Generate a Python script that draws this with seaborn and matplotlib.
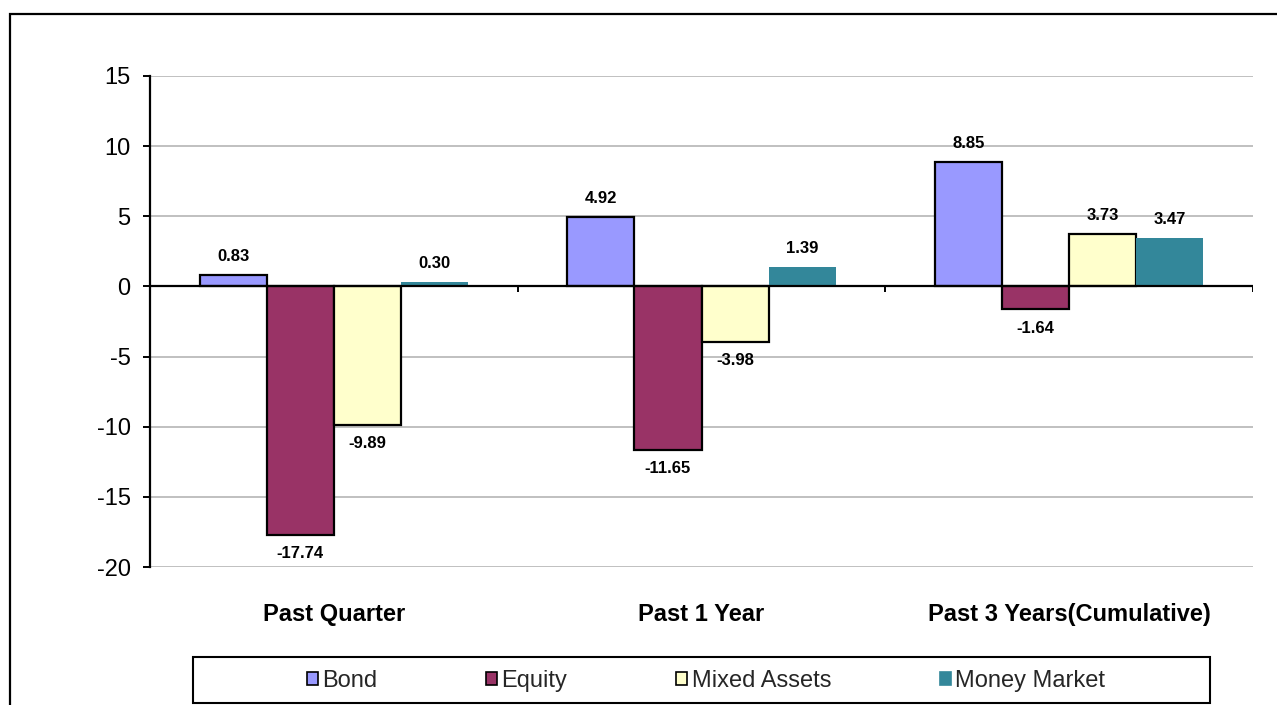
import matplotlib
matplotlib.use("Agg")
import matplotlib.pyplot as plt
from matplotlib import font_manager
from matplotlib.patches import Rectangle, Patch
import seaborn as sns
import pandas as pd

categories = ["Past Quarter", "Past 1 Year", "Past 3 Years(Cumulative)"]
series_names = ["Bond", "Equity", "Mixed Assets", "Money Market"]
bond = [0.83, 4.92, 8.85]
equity = [-17.74, -11.65, -1.64]
mixed = [-9.89, -3.98, 3.73]
money = [0.30, 1.39, 3.47]
yticks = [-20, -15, -10, -5, 0, 5, 10, 15]

colors = ["#9999FF", "#993366", "#FFFFCC", "#33879A"]
edges = ["black", "black", "black", "none"]

rows = []
for name, vals in zip(series_names, [bond, equity, mixed, money]):
    for c, v in zip(categories, vals):
        rows.append({"Category": c, "Series": name, "Value": v})
df = pd.DataFrame(rows)

sns.set_theme(style="white")
names = {f.name for f in font_manager.fontManager.ttflist}
main_font = "Liberation Sans" if "Liberation Sans" in names else "DejaVu Sans"
plt.rcParams["font.family"] = [main_font, "DejaVu Sans"]

W, H = 1277, 705
fig = plt.figure(figsize=(W / 100, H / 100), dpi=100)
fig.patch.set_facecolor("white")
ax = fig.add_axes([150 / W, 1 - 567 / H, (1253 - 150) / W, (567 - 76) / H])

sns.barplot(data=df, x="Category", y="Value", hue="Series", order=categories,
            hue_order=series_names, palette=colors, width=0.73, ax=ax,
            saturation=1, legend=False, errorbar=None)

for cont, ec in zip(ax.containers, edges):
    for bar in cont:
        if ec == "none":
            bar.set_edgecolor("none")
            bar.set_linewidth(0)
        else:
            bar.set_edgecolor(ec)
            bar.set_linewidth(1.6)
    ax.bar_label(cont, fmt="%.2f", padding=8, fontsize=12, fontweight="bold",
                 color="black")

ax.set_ylim(-20, 15)
ax.set_xlim(-0.5, len(categories) - 0.5)
ax.set_yticks(yticks)
ax.set_yticklabels([str(t) for t in yticks], fontsize=17)
ax.yaxis.grid(True, color="#C0C0C0", linewidth=1.4)
ax.set_axisbelow(True)
ax.set_xlabel("")
ax.set_ylabel("")
for s in ["top", "right", "bottom"]:
    ax.spines[s].set_visible(False)
ax.spines["left"].set_color("black")
ax.spines["left"].set_linewidth(1.6)
ax.tick_params(axis="y", direction="out", length=5, width=1.4, color="black", pad=9,
               left=True, labelcolor="black")
ax.tick_params(axis="x", length=0, pad=26, labelcolor="black")
for lab in ax.get_xticklabels():
    lab.set_fontweight("bold")
    lab.set_fontsize(17)

# zero axis with category boundary tick marks
ax.axhline(0, color="black", linewidth=1.6, zorder=5)
bounds = [i + 0.5 for i in range(len(categories))]
ax.vlines(bounds, -0.4, 0, color="black", linewidth=1.4, zorder=5)

# legend
handles = [Patch(facecolor=c, edgecolor=("black" if e != "none" else c), linewidth=1.2)
           for c, e in zip(colors, edges)]
fig.legend(handles, series_names, loc="center", ncol=4, frameon=False,
           bbox_to_anchor=(706 / W, 1 - 681 / H),
           prop={"family": [main_font, "DejaVu Sans"], "size": 17},
           handlelength=0.46, handleheight=0.5, handletextpad=0.2,
           columnspacing=4.6, borderaxespad=0)
fig.add_artist(Rectangle((193 / W, 1 - 703 / H), (1210 - 193) / W, 46 / H,
                         transform=fig.transFigure, fill=False,
                         edgecolor="black", linewidth=1.5))
# outer chart border
fig.add_artist(Rectangle((10 / W, -0.05), 1.2, 1 - 14 / H + 0.05,
                         transform=fig.transFigure, fill=False,
                         edgecolor="black", linewidth=1.6))

fig.savefig("out.png", dpi=100, facecolor="white")
